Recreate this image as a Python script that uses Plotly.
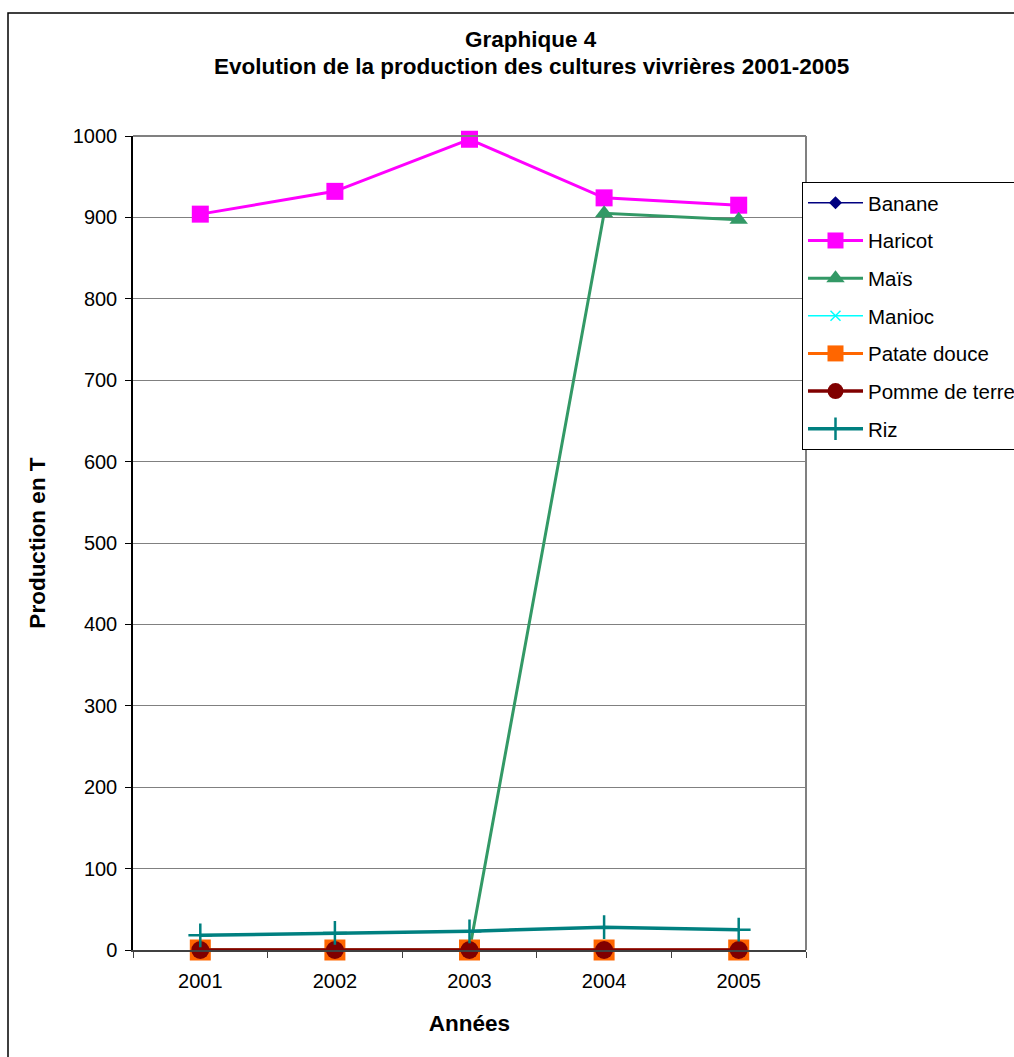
import plotly.graph_objects as go

years = ["2001", "2002", "2003", "2004", "2005"]
banane = [0, 0, 0, 0, 0]
haricot = [904, 932, 996, 924, 915]
mais = [0, 0, 0, 905, 897]
manioc = [0, 0, 0, 0, 0]
patate_douce = [0, 0, 0, 0, 0]
pomme_de_terre = [0, 0, 0, 0, 0]
riz = [18, 21, 23, 28, 25]

FONT = "Liberation Sans, Arial, sans-serif"

series = [
    ("Banane", banane, "#000080", 1.5, "diamond", 10, None),
    ("Haricot", haricot, "#FF00FF", 3, "square", 17, None),
    ("Maïs", mais, "#339966", 3, "triangle-up", 16, None),
    ("Manioc", manioc, "#00FFFF", 1.5, "x-thin", 10, 1.5),
    ("Patate douce", patate_douce, "#FF6600", 3, "square", 21, None),
    ("Pomme de terre", pomme_de_terre, "#800000", 3.5, "circle", 18, None),
    ("Riz", riz, "#008080", 3.5, "cross-thin", 17, 2.5),
]

fig = go.Figure()
for i, (name, vals, col, lw, sym, ms, mlw) in enumerate(series):
    marker = dict(symbol=sym, size=ms, color=col)
    if mlw is not None:
        marker["line"] = dict(color=col, width=mlw)
    else:
        marker["line"] = dict(width=0)
    fig.add_trace(go.Scatter(
        x=years, y=vals, name=name, mode="lines+markers",
        line=dict(color=col, width=lw), marker=marker,
        legendgroup=f"g{i}", cliponaxis=False,
    ))

L, R, T, B = 133, 806, 136, 950
W, H = 1014, 1057
pw, ph = R - L, B - T

def px_x(x):
    return (x - L) / pw

def px_y(y):
    return (B - y) / ph

fig.update_layout(
    width=W, height=H,
    margin=dict(l=L, r=W - R, t=T, b=H - B, autoexpand=False),
    paper_bgcolor="white", plot_bgcolor="white",
    font=dict(family=FONT, size=20, color="black"),
    showlegend=True,
    legend=dict(
        x=px_x(802), y=px_y(182), xanchor="left", yanchor="top",
        bordercolor="black", borderwidth=1, bgcolor="white",
        font=dict(family=FONT, size=20.5, color="black"),
        itemwidth=55, tracegroupgap=8, traceorder="grouped",
    ),
    xaxis=dict(
        type="category", range=[-0.5, 4.5],
        tickson="boundaries", ticks="outside", ticklen=6, tickcolor="#404040",
        showline=True, linecolor="#404040", linewidth=2,
        showgrid=False, zeroline=False,
        tickfont=dict(family=FONT, size=20), ticklabelstandoff=12,
        title=dict(text="<b>Années</b>", font=dict(family=FONT, size=22.5), standoff=24),
    ),
    yaxis=dict(
        range=[0, 1000], dtick=100, tick0=0,
        ticks="outside", ticklen=6, tickcolor="black",
        showline=True, linecolor="black", linewidth=1.5,
        showgrid=True, gridcolor="#808080", gridwidth=1.2,
        zeroline=False,
        tickfont=dict(family=FONT, size=20), ticklabelstandoff=4,
        title=dict(text="<b>Production en T</b>", font=dict(family=FONT, size=22.5), standoff=21),
    ),
    shapes=[
        dict(type="line", xref="paper", yref="paper", x0=0, x1=1, y0=1, y1=1,
             line=dict(color="#808080", width=2)),
        dict(type="line", xref="paper", yref="paper", x0=1, x1=1, y0=0, y1=1,
             line=dict(color="#808080", width=2)),
        dict(type="rect", xref="paper", yref="paper",
             x0=px_x(8), x1=px_x(1030), y0=px_y(1080), y1=px_y(13),
             line=dict(color="black", width=1.5), fillcolor="rgba(0,0,0,0)", layer="below"),
    ],
    annotations=[
        dict(text="<b>Graphique 4</b>", xref="paper", yref="paper",
             x=px_x(531), y=px_y(40), xanchor="center", yanchor="middle",
             showarrow=False, font=dict(family=FONT, size=22.5)),
        dict(text="<b>Evolution de la production des cultures vivrières 2001-2005</b>",
             xref="paper", yref="paper",
             x=px_x(531), y=px_y(67), xanchor="center", yanchor="middle",
             showarrow=False, font=dict(family=FONT, size=22.5)),
    ],
)

fig.write_html("out.html")
